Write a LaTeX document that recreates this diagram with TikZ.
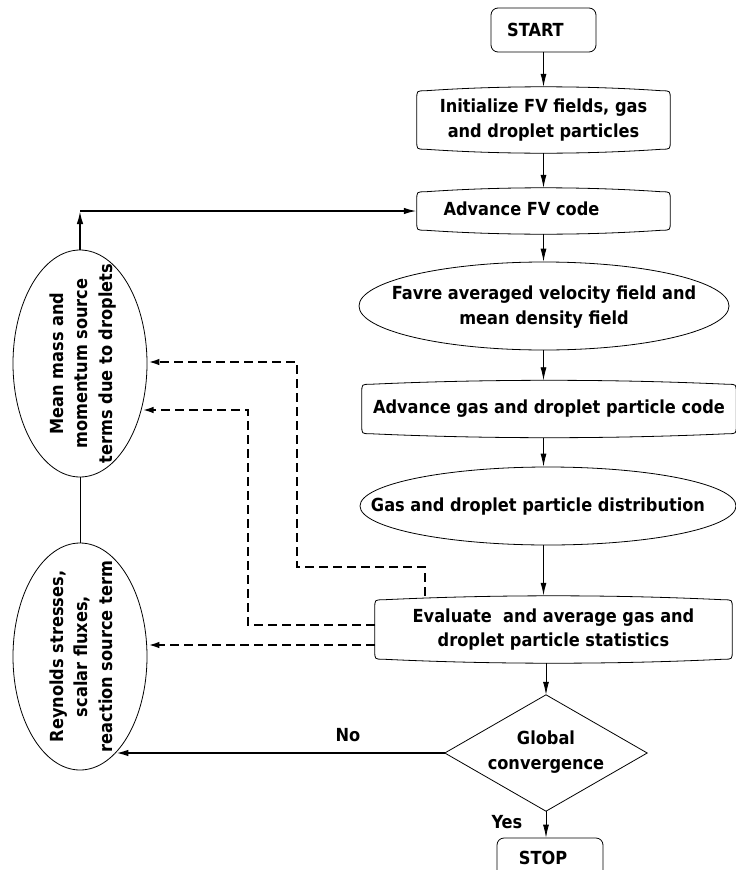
\documentclass[tikz,border=0pt]{standalone}
\usepackage{fontspec}
\newfontfamily\dfont{DejaVu Sans Condensed Bold}
\usetikzlibrary{arrows.meta,calc,shapes.geometric}
\newcommand\bulgebox[1]{%
\draw[boxline] let \p1=(#1.north west), \p2=(#1.south east), \n1={(\x2-\x1)/3} in
 (\x1,\y1-12pt) -- (\x1,\y2+12pt)
 .. controls (\x1,\y2+4pt) .. (\x1+8pt,\y2+4pt)
 .. controls (\x1+\n1,\y2-1.33pt) and (\x2-\n1,\y2-1.33pt) .. (\x2-8pt,\y2+4pt)
 .. controls (\x2,\y2+4pt) .. (\x2,\y2+12pt)
 -- (\x2,\y1-12pt)
 .. controls (\x2,\y1-4pt) .. (\x2-8pt,\y1-4pt)
 .. controls (\x2-\n1,\y1+1.33pt) and (\x1+\n1,\y1+1.33pt) .. (\x1+8pt,\y1-4pt)
 .. controls (\x1,\y1-4pt) .. cycle;}
\tikzset{
 txt/.style={font=\dfont\fontsize{18}{24.5}\selectfont, align=center, inner sep=0pt},
 boxline/.style={line width=0.8pt},
 rbox/.style={txt, draw, rounded corners=7pt, boxline},
 ellnode/.style={ellipse, draw, boxline, inner sep=0pt},
 thinarr/.style={line width=0.8pt, -{Latex[length=13pt,width=6pt]}},
 thickarr/.style={line width=1.8pt, -{Latex[length=13pt,width=6.5pt]}},
 dasharr/.style={line width=2.4pt, dash pattern=on 9pt off 5pt, -{Latex[length=12pt,width=6.5pt]}},
 plainline/.style={line width=0.8pt},
}
\begin{document}
\begin{tikzpicture}[x=1pt,y=-1pt]
\useasboundingbox (0,0) rectangle (736,870);
\clip (0,0) rectangle (736,870);
% right column
\node[rbox, minimum width=105pt, minimum height=44pt] (start) at (543.5,30) {START\hspace*{16pt}};
\node[txt, minimum width=253pt, minimum height=66pt] (init) at (543.5,120) {Initialize FV fields, gas\\and droplet particles};
\bulgebox{init}
\node[txt, minimum width=253pt, minimum height=46pt] (advfv) at (543.5,211) {\raisebox{4pt}{Advance FV code}\hspace*{44pt}};
\bulgebox{advfv}
\node[ellnode, minimum width=370pt, minimum height=88pt] (favre) at (544,306) {};
\node[txt] (favret) at (544,307) {Favre averaged velocity field and\\mean density field};
\node[txt, minimum width=374pt, minimum height=57pt] (advgas) at (549,409) {Advance gas and droplet particle code};
\bulgebox{advgas}
\node[ellnode, minimum width=376pt, minimum height=78pt] (gas) at (548,506) {};
\node[txt] (gast) at (538,507) {Gas and droplet particle distribution};
\node[txt, minimum width=357pt, minimum height=67pt] (eval) at (553.5,629.5) {Evaluate\ \ and average gas and\\droplet particle statistics};
\bulgebox{eval}
\node[minimum width=202pt, minimum height=116pt, inner sep=0pt] (dia) at (546,753) {};
\draw[boxline] (dia.north) -- (dia.east) -- (dia.south) -- (dia.west) -- cycle;
\node[txt] (diat) at (546,752) {Global\\convergence};
\node[rbox, minimum width=106pt, minimum height=40pt] (stop) at (550,858) {STOP\hspace*{14pt}};
% left column
\node[ellnode, minimum width=134pt, minimum height=227pt] (ell1) at (80,363.5) {};
\node[txt, rotate=90] (ell1t) at (83,363.5) {Mean mass and\\momentum source\\terms due to droplets};
\node[ellnode, minimum width=134pt, minimum height=227pt] (ell2) at (80,656.5) {};
\node[txt, rotate=90] (ell2t) at (81,656.5) {Reynolds stresses,\\scalar fluxes,\\reaction source term};
% labels
\node[txt] (no) at (348,735) {No};
\node[txt] (yes) at (507,822) {Yes};
% main flow
\coordinate (axis) at (543.5,0);
\draw[thinarr] (start.south) -- (init.north -| start.south);
\draw[thinarr] (init.south) -- (advfv.north -| init.south);
\draw[thinarr] (advfv.south) -- (advfv.south |- favre.north);
\draw[thinarr] (favre.south -| axis) -- (advgas.north -| axis);
\draw[thinarr] (advgas.south -| axis) -- (gas.north -| axis);
\draw[line width=1.4pt, -{Latex[length=13pt,width=6pt]}] (gas.south -| axis) -- (eval.north -| axis);
\draw[thinarr] (eval.south -| dia.north) -- (dia.north);
\draw[thinarr] (dia.south) -- (stop.north -| dia.south);
% feedback loop
\coordinate (corner) at (ell1.north |- advfv.west);
\draw[thickarr] (ell1.north) -- (corner);
\draw[thickarr] (corner) -- (advfv.west);
\draw[plainline] (ell1.south) -- (ell2.north);
\draw[thickarr, line width=2.2pt] (dia.west) -- (dia.west -| ell2.-70);
% dashed connectors
\coordinate (d1a) at (425,567);
\coordinate (d1b) at (297,362);
\draw[dasharr] (eval.north -| d1a) -- (d1a) -| (d1b) -- (d1b -| ell1.east);
\coordinate (d2s) at ($(eval.west)+(0,-4.5)$);
\coordinate (d2b) at (248,410);
\draw[dasharr] (d2s) -| (d2b) -- (d2b -| ell1.-37);
\coordinate (d3s) at ($(eval.west)+(0,15.5)$);
\draw[dasharr] (d3s) -- (d3s -| ell2.east);
\end{tikzpicture}
\end{document}
